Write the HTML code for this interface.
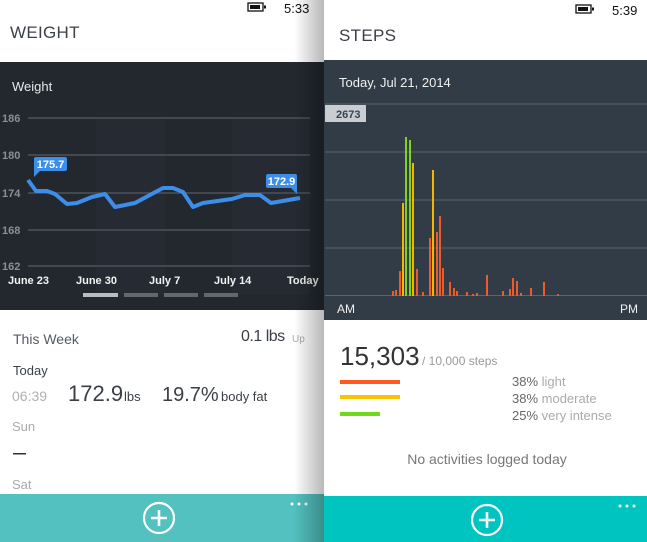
<!DOCTYPE html>
<html><head><meta charset="utf-8"><style>
html,body{margin:0;padding:0;background:#fff;}
svg{display:block;font-family:"Liberation Sans",sans-serif;}
</style></head><body>
<svg width="647" height="542" viewBox="0 0 647 542" xmlns="http://www.w3.org/2000/svg">
<defs>
<linearGradient id="sh" x1="0" x2="1" y1="0" y2="0">
<stop offset="0" stop-color="#000" stop-opacity="0"/>
<stop offset="1" stop-color="#000" stop-opacity="0.28"/>
</linearGradient>
</defs>
<rect x="0" y="0" width="324" height="542" fill="#fff"/>
<rect x="0" y="62" width="324" height="248" fill="#23282f"/>
<rect x="96" y="118" width="69" height="177" fill="#262b33"/>
<rect x="232" y="118" width="78" height="177" fill="#262b33"/>
<g stroke="#4d535b" stroke-width="1.5">
<line x1="28" y1="118" x2="310" y2="118"/>
<line x1="28" y1="155" x2="310" y2="155"/>
<line x1="28" y1="193" x2="310" y2="193"/>
<line x1="28" y1="230" x2="310" y2="230"/>
<line x1="28" y1="266" x2="310" y2="266"/>
</g>
<g fill="#8a8f96" font-size="11" font-weight="bold">
<text x="2" y="122">186</text><text x="2" y="159">180</text><text x="2" y="197">174</text><text x="2" y="234">168</text><text x="2" y="270">162</text>
</g>
<text x="12" y="91" fill="#e8e8e8" font-size="13">Weight</text>
<polyline fill="none" stroke="#3d8ee8" stroke-width="4" stroke-linejoin="round" points="28,180 36,191 47,191 55,194 67,204 77,203 92,197 105,194 115,207 135,203 148,196 163,188 173,188 183,192 193,207 203,203 232,199 245,195 260,195 271,203 300,198"/>
<rect x="34" y="157" width="33" height="14" rx="2" fill="#3d8ee8"/>
<polygon points="34,168 40,171 34,177" fill="#3d8ee8"/>
<text x="50.5" y="168" fill="#fff" font-size="11" font-weight="bold" text-anchor="middle">175.7</text>
<rect x="266" y="174" width="31" height="14" rx="2" fill="#3d8ee8"/>
<polygon points="297,185 291,188 297,194" fill="#3d8ee8"/>
<text x="281.5" y="185" fill="#fff" font-size="11" font-weight="bold" text-anchor="middle">172.9</text>
<g fill="#f2f2f2" font-size="11" font-weight="bold">
<text x="8" y="284">June 23</text><text x="76" y="284">June 30</text><text x="149" y="284">July 7</text><text x="214" y="284">July 14</text><text x="287" y="284">Today</text>
</g>
<rect x="83" y="293" width="35" height="4" fill="#b9bcc0"/>
<rect x="124" y="293" width="34" height="4" fill="#63686f"/>
<rect x="164" y="293" width="34" height="4" fill="#63686f"/>
<rect x="204" y="293" width="34" height="4" fill="#63686f"/>
<text x="10" y="38" fill="#3c4148" font-size="17" letter-spacing="0.3">WEIGHT</text>
<rect x="248" y="3" width="15" height="8" fill="none" stroke="#111" stroke-width="1.3"/>
<rect x="250" y="5" width="10" height="4" fill="#111"/><rect x="264" y="5.5" width="2" height="3" fill="#111"/>
<text x="284" y="13" fill="#111" font-size="13">5:33</text>
<text x="13" y="344" fill="#555b63" font-size="14">This Week</text>
<text x="241" y="341" fill="#3a3f46" font-size="16" letter-spacing="-0.5">0.1 lbs</text>
<text x="292" y="342" fill="#aaa" font-size="10">Up</text>
<text x="13" y="375" fill="#3a3f46" font-size="13">Today</text>
<text x="12" y="401" fill="#b0b0b0" font-size="14">06:39</text>
<text x="68" y="401" fill="#3a3f46" font-size="22">172.9</text><text x="124" y="401" fill="#3a3f46" font-size="13">lbs</text>
<text x="162" y="401" fill="#3a3f46" font-size="20">19.7%</text><text x="221" y="401" fill="#3a3f46" font-size="13">body fat</text>
<text x="12" y="431" fill="#aaa" font-size="13">Sun</text>
<rect x="13" y="453" width="13" height="1.5" fill="#333"/>
<text x="12" y="489" fill="#aaa" font-size="13">Sat</text>
<rect x="0" y="494" width="324" height="48" fill="#52c1bf"/>
<circle cx="159" cy="518" r="15" fill="none" stroke="#fff" stroke-width="2.2"/>
<path d="M151 518H167M159 510V526" stroke="#fff" stroke-width="2.6"/>
<g fill="#fff"><circle cx="292" cy="504" r="1.5"/><circle cx="299" cy="504" r="1.5"/><circle cx="306" cy="504" r="1.5"/></g>
<rect x="294" y="0" width="30" height="542" fill="url(#sh)"/>
<rect x="324" y="0" width="323" height="542" fill="#fff"/>
<rect x="324" y="60" width="323" height="260" fill="#323c47"/>
<g stroke="#5a646f" stroke-width="1">
<line x1="325" y1="104" x2="647" y2="104"/><line x1="325" y1="152" x2="647" y2="152"/><line x1="325" y1="200" x2="647" y2="200"/><line x1="325" y1="248" x2="647" y2="248"/><line x1="325" y1="295.5" x2="647" y2="295.5"/>
</g>
<rect x="325" y="105" width="41" height="17" fill="#c9ccd1"/>
<text x="336" y="118" fill="#3a4450" font-size="11" font-weight="bold">2673</text>
<text x="339" y="87" fill="#f0f0f0" font-size="13">Today, Jul 21, 2014</text>
<g fill="#f05a28">
<rect x="392" y="291" width="2" height="5"/><rect x="395" y="290" width="2" height="6"/><rect x="399" y="271" width="2" height="25"/>
<rect x="416" y="269" width="2" height="27"/><rect x="422" y="292" width="2" height="4"/><rect x="429" y="238" width="2" height="58"/>
<rect x="436" y="232" width="2" height="64"/><rect x="439" y="216" width="2" height="80"/><rect x="442" y="268" width="2" height="28"/>
<rect x="449" y="282" width="2" height="14"/><rect x="453" y="288" width="2" height="8"/><rect x="456" y="291" width="2" height="5"/>
<rect x="466" y="292" width="2" height="4"/><rect x="472" y="294" width="2" height="2"/><rect x="476" y="293" width="2" height="3"/>
<rect x="486" y="275" width="2" height="21"/><rect x="502" y="291" width="2" height="5"/><rect x="509" y="289" width="2" height="7"/>
<rect x="512" y="278" width="2" height="18"/><rect x="516" y="281" width="2" height="15"/><rect x="520" y="293" width="2" height="3"/>
<rect x="530" y="288" width="2" height="8"/><rect x="543" y="282" width="2" height="14"/><rect x="557" y="294" width="2" height="2"/>
</g>
<g fill="#f7b500"><rect x="402" y="203" width="2" height="93"/><rect x="412" y="163" width="2" height="133"/><rect x="432" y="170" width="2" height="126"/></g>
<g fill="#7ed321"><rect x="405" y="137" width="2" height="159"/><rect x="409" y="140" width="2" height="156"/></g>
<text x="337" y="313" fill="#f0f0f0" font-size="12">AM</text>
<text x="620" y="313" fill="#f0f0f0" font-size="12">PM</text>
<text x="339" y="41" fill="#3c4148" font-size="17" letter-spacing="0.3">STEPS</text>
<rect x="576" y="5" width="15" height="8" fill="none" stroke="#111" stroke-width="1.3"/>
<rect x="578" y="7" width="10" height="4" fill="#111"/><rect x="592" y="7.5" width="2" height="3" fill="#111"/>
<text x="612" y="15" fill="#111" font-size="13">5:39</text>
<text x="340" y="365" fill="#333" font-size="26">15,303</text>
<text x="422" y="365" fill="#999" font-size="12">/ 10,000 steps</text>
<rect x="340" y="380" width="60" height="4" fill="#ff5a1f"/>
<rect x="340" y="395" width="60" height="4" fill="#f9c300"/>
<rect x="340" y="412" width="40" height="4" fill="#6ed81a"/>
<g font-size="13"><text x="512" y="386" fill="#666">38% <tspan fill="#aaa">light</tspan></text>
<text x="512" y="403" fill="#666">38% <tspan fill="#aaa">moderate</tspan></text>
<text x="512" y="420" fill="#666">25% <tspan fill="#aaa">very intense</tspan></text></g>
<text x="487" y="464" fill="#777" font-size="14" text-anchor="middle">No activities logged today</text>
<rect x="324" y="496" width="323" height="46" fill="#00c4c0"/>
<circle cx="487" cy="520" r="15" fill="none" stroke="#fff" stroke-width="2.2"/>
<path d="M479 520H495M487 512V528" stroke="#fff" stroke-width="2.6"/>
<g fill="#fff"><circle cx="620" cy="506" r="1.5"/><circle cx="627" cy="506" r="1.5"/><circle cx="634" cy="506" r="1.5"/></g>
</svg>
</body></html>
